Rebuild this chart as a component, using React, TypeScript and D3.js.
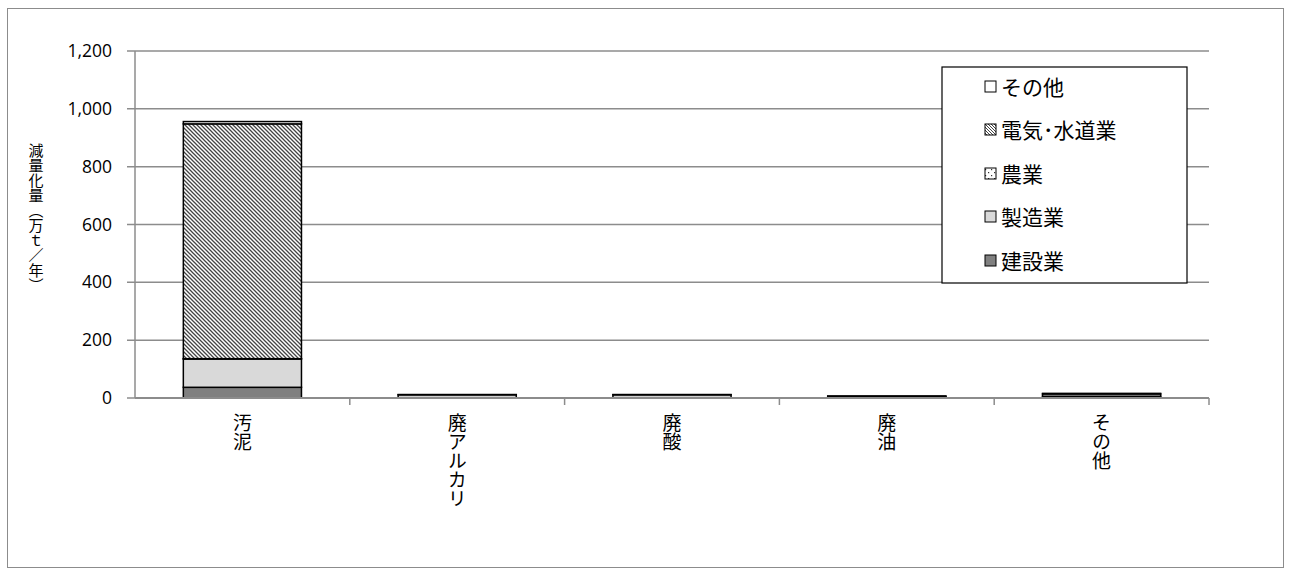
import React from "react";
import * as d3 from "d3";

const categories = ["汚泥", "廃アルカリ", "廃酸", "廃油", "その他"];
const seriesNames = ["建設業", "製造業", "農業", "電気･水道業", "その他"];
const construction = [37, 1, 1, 3, 6];
const manufacturing = [98, 10, 10, 3, 8];
const agriculture = [1, 0, 0, 0, 0];
const utilities = [812, 0, 0, 0, 0];
const others = [8, 1, 1, 1, 2];
const yTicks = [0, 200, 400, 600, 800, 1000, 1200];
const yTitle = "減量化量（万ｔ／年）";

const W = 1292;
const H = 576;
const margin = { left: 135, right: 1209, top: 51, bottom: 398 };
const fills = ["#808080", "#d9d9d9", "url(#dots)", "url(#hatch)", "#ffffff"];
const font = "'Noto Sans CJK JP', 'Noto Sans', sans-serif";

export default function App() {
  const x = d3.scaleBand<string>().domain(categories).range([margin.left, margin.right]).paddingInner(0.45).paddingOuter(0.225);
  const xb = d3.scaleBand<string>().domain(categories).range([margin.left, margin.right]);
  const y = d3.scaleLinear().domain([0, 1200]).range([margin.bottom, margin.top]);

  const rows = categories.map((c, i) => ({
    cat: c,
    s0: construction[i],
    s1: manufacturing[i],
    s2: agriculture[i],
    s3: utilities[i],
    s4: others[i],
  }));
  const stack = d3.stack<any>().keys(["s0", "s1", "s2", "s3", "s4"]);
  const layers = stack(rows);

  const legendY = [87, 130, 174, 217, 261];

  return (
    <svg width={W} height={H} style={{ position: "absolute", left: 0, top: 0, fontFamily: font }}>
      <defs>
        <pattern id="hatch" patternUnits="userSpaceOnUse" width="4" height="4">
          <rect width="4" height="4" fill="#fff" />
          <path d="M-1,-1 L5,5 M-1,3 L1,5 M3,-1 L5,1" stroke="#444" strokeWidth="1.3" />
        </pattern>
        <pattern id="hatchL" patternUnits="userSpaceOnUse" width="3" height="3">
          <rect width="3" height="3" fill="#fff" />
          <path d="M-1,-1 L4,4 M-1,2 L1,4 M2,-1 L4,1" stroke="#444" strokeWidth="1" />
        </pattern>
        <pattern id="dots" patternUnits="userSpaceOnUse" width="6" height="6">
          <rect width="6" height="6" fill="#fff" />
          <rect x="1" y="1" width="1.2" height="1.2" fill="#333" />
          <rect x="4" y="4" width="1.2" height="1.2" fill="#333" />
        </pattern>
      </defs>
      <rect x={7.5} y={8.5} width={1276} height={559} fill="#fff" stroke="#8c8c8c" strokeWidth={1} />

      {yTicks.map((t) => (
        <g key={t}>
          {t > 0 && (
            <line x1={margin.left - 8} x2={margin.right} y1={y(t)} y2={y(t)} stroke="#8c8c8c" strokeWidth={1.5} />
          )}
          {t === 0 && <line x1={margin.left - 8} x2={margin.left} y1={y(0)} y2={y(0)} stroke="#8c8c8c" strokeWidth={1.5} />}
          <text x={112} y={y(t)} dy="0.35em" textAnchor="end" fontSize={17.5} fill="#000" fontFamily="'Open Sans', 'Noto Sans', sans-serif">
            {d3.format(",")(t)}
          </text>
        </g>
      ))}
      <line x1={margin.left} x2={margin.left} y1={margin.top} y2={margin.bottom} stroke="#8c8c8c" strokeWidth={1.5} />

      {layers.map((layer, li) =>
        layer.map((d, i) => {
          const h = y(d[0]) - y(d[1]);
          if (h <= 0) return null;
          return (
            <rect
              key={li + "-" + i}
              x={x(categories[i])}
              width={x.bandwidth()}
              y={y(d[1])}
              height={h}
              fill={fills[li]}
              stroke="#000"
              strokeWidth={1.5}
            />
          );
        })
      )}

      <line x1={margin.left} x2={margin.right} y1={y(0)} y2={y(0)} stroke="#8c8c8c" strokeWidth={2} />
      {categories.map((c, i) => (
        <line key={"t" + i} x1={(xb(c) as number) + xb.bandwidth()} x2={(xb(c) as number) + xb.bandwidth()} y1={y(0)} y2={y(0) + 7} stroke="#8c8c8c" strokeWidth={1.5} />
      ))}

      {categories.map((c) => (
        <text
          key={"l" + c}
          x={(xb(c) as number) + xb.bandwidth() / 2}
          y={413}
          fontSize={19}
          fill="#000"
          style={{ writingMode: "vertical-rl" as any }}
        >
          {c}
        </text>
      ))}

      <text x={36} y={143} fontSize={15} fill="#000" style={{ writingMode: "vertical-rl" as any }}>
        {yTitle}
      </text>

      <rect x={942} y={67} width={245} height={216} fill="#fff" stroke="#000" strokeWidth={1.2} />
      {seriesNames
        .map((n, i) => ({ n, i }))
        .reverse()
        .map(({ n, i }, k) => (
          <g key={"lg" + i}>
            <rect
              x={985}
              y={legendY[k] - 6}
              width={11}
              height={11}
              fill={i === 3 ? "url(#hatchL)" : fills[i]}
              stroke="#000"
              strokeWidth={1}
            />
            <text x={1001} y={legendY[k]} dy="0.36em" fontSize={21} fill="#000">
              {n}
            </text>
          </g>
        ))}
    </svg>
  );
}
